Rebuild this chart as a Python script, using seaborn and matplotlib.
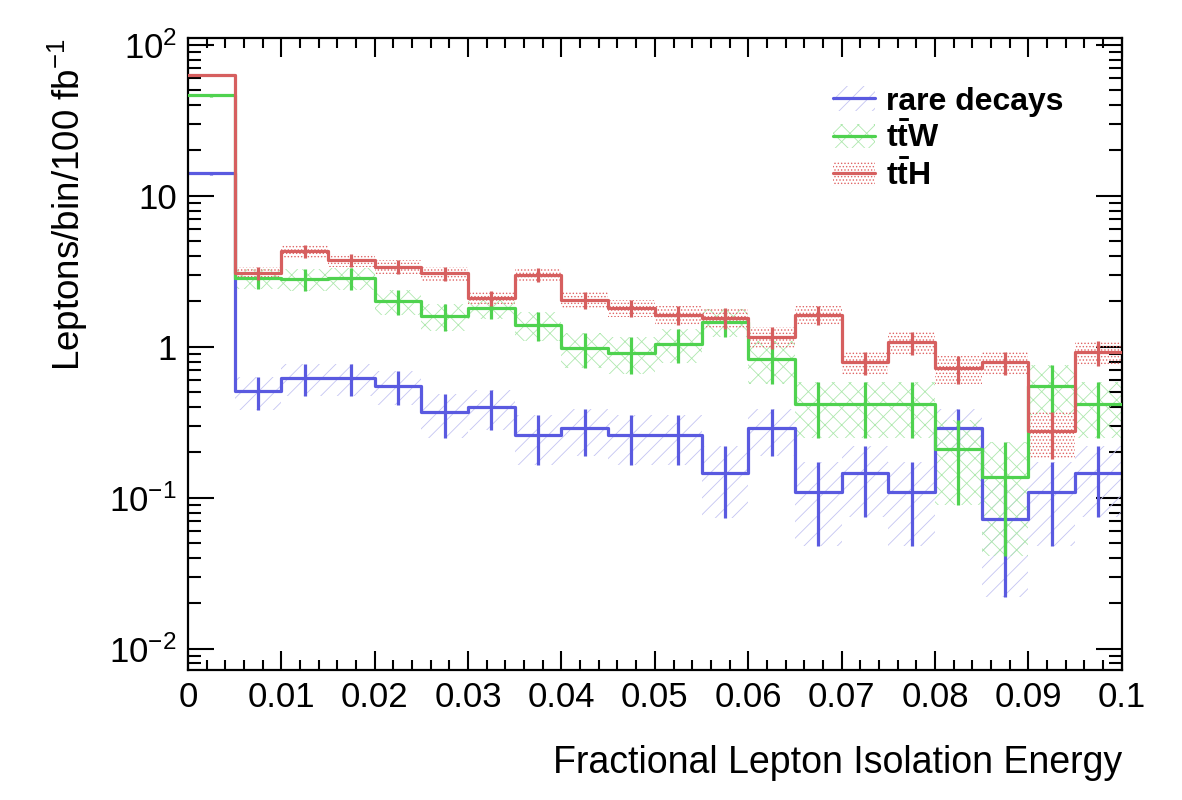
import matplotlib
matplotlib.use("Agg")
import matplotlib.pyplot as plt
import numpy as np
import pandas as pd
import seaborn as sns
from matplotlib.lines import Line2D
from matplotlib.patches import Patch
from matplotlib.ticker import FixedLocator, FixedFormatter, MultipleLocator, LogLocator, NullFormatter

# %% data
bin_edges = [round(0.005 * k, 4) for k in range(21)]
bin_centers = np.array(bin_edges[:-1]) + 0.0025

rare_vals = [14.1, 0.51, 0.62, 0.62, 0.55, 0.37, 0.40, 0.26, 0.29, 0.26,
             0.26, 0.147, 0.29, 0.11, 0.147, 0.11, 0.29, 0.073, 0.11, 0.147]
rare_errs = [0.4, 0.126, 0.145, 0.145, 0.14, 0.12, 0.12, 0.095, 0.10, 0.095,
             0.095, 0.073, 0.10, 0.062, 0.072, 0.062, 0.10, 0.051, 0.062, 0.072]

ttw_vals = [46.4, 2.85, 2.81, 2.85, 2.0, 1.60, 1.82, 1.40, 0.98, 0.91,
            1.05, 1.47, 0.83, 0.42, 0.42, 0.42, 0.21, 0.138, 0.555, 0.42]
ttw_errs = [0.9, 0.43, 0.45, 0.46, 0.37, 0.32, 0.30, 0.30, 0.26, 0.25,
            0.27, 0.31, 0.26, 0.17, 0.17, 0.17, 0.12, 0.097, 0.20, 0.17]

tth_vals = [63.4, 3.07, 4.32, 3.77, 3.40, 3.07, 2.10, 3.0, 2.05, 1.81,
            1.63, 1.56, 1.16, 1.63, 0.79, 1.07, 0.72, 0.79, 0.277, 0.92]
tth_errs = [1.0, 0.30, 0.43, 0.38, 0.37, 0.33, 0.24, 0.32, 0.26, 0.24,
            0.24, 0.25, 0.19, 0.23, 0.14, 0.18, 0.15, 0.14, 0.095, 0.17]

series_labels = ["rare decays", r"t$\mathbf{\bar{t}}$W", r"t$\mathbf{\bar{t}}$H"]
x_tick_values = [0, 0.01, 0.02, 0.03, 0.04, 0.05, 0.06, 0.07, 0.08, 0.09, 0.1]
x_tick_labels = ["0", "0.01", "0.02", "0.03", "0.04", "0.05", "0.06", "0.07", "0.08", "0.09", "0.1"]
y_tick_values = [1e-2, 1e-1, 1, 10, 100]
y_tick_labels = [r"$10^{-2}$", r"$10^{-1}$", "1", "10", r"$10^{2}$"]

# %% style
sns.set_style("ticks")
plt.rcParams["font.family"] = ["Liberation Sans", "DejaVu Sans"]
plt.rcParams["mathtext.fontset"] = "custom"
plt.rcParams["mathtext.rm"] = "Liberation Sans"
plt.rcParams["mathtext.it"] = "Liberation Sans:italic"
plt.rcParams["mathtext.bf"] = "Liberation Sans:bold"
plt.rcParams["text.color"] = "black"
plt.rcParams["axes.labelcolor"] = "black"
plt.rcParams["hatch.linewidth"] = 0.6

line_colors = ["#5a5ae0", "#4fd24f", "#d65f5f"]
band_colors = ["#c4c4f2", "#aee8ae", "#e06464"]
band_hatches = ["//", "xx", "....."]

fig = plt.figure(figsize=(11.82, 8), dpi=100)
ax = fig.add_axes([0.159, 0.1625, 0.790, 0.790])

all_series = [(rare_vals, rare_errs), (ttw_vals, ttw_errs), (tth_vals, tth_errs)]
for i, (vals, errs) in enumerate(all_series):
    vals = np.array(vals)
    errs = np.array(errs)
    ax.bar(bin_centers, 2 * errs, bottom=vals - errs, width=0.005,
           color="none", edgecolor=band_colors[i], hatch=band_hatches[i],
           linewidth=0, zorder=1)

for i, (vals, errs) in enumerate(all_series):
    vals = np.array(vals)
    errs = np.array(errs)
    df_hist = pd.DataFrame({"x": bin_centers, "w": vals})
    sns.histplot(data=df_hist, x="x", weights="w", bins=bin_edges, element="step",
                 fill=False, color=line_colors[i], linewidth=2.3, ax=ax, zorder=2 + i)
    ax.vlines(bin_centers, vals - errs, vals + errs, colors=line_colors[i],
              linewidth=2.3, zorder=2 + i)

ax.set_yscale("log")
ax.set_xlim(0, 0.1)
ax.set_ylim(10 ** -2.14, 10 ** 2.046)

ax.xaxis.set_major_locator(FixedLocator(x_tick_values))
ax.xaxis.set_major_formatter(FixedFormatter(x_tick_labels))
ax.xaxis.set_minor_locator(MultipleLocator(0.002))
ax.yaxis.set_major_locator(FixedLocator(y_tick_values))
ax.yaxis.set_major_formatter(FixedFormatter(y_tick_labels))
ax.yaxis.set_minor_locator(LogLocator(base=10, subs=np.arange(2, 10)))
ax.yaxis.set_minor_formatter(NullFormatter())

ax.tick_params(which="both", direction="in", top=True, right=True, width=1.5,
               labelsize=25, colors="black")
ax.tick_params(axis="x", which="major", length=14, pad=8)
ax.tick_params(axis="x", which="minor", length=7)
ax.tick_params(axis="y", which="major", length=19, pad=8)
ax.tick_params(axis="y", which="minor", length=9.5)
for sp in ax.spines.values():
    sp.set_linewidth(1.6)
    sp.set_color("black")

ax.set_xlabel("Fractional Lepton Isolation Energy", fontsize=27, loc="right", labelpad=22)
ax.set_ylabel(r"Leptons/bin/100 fb$^{-1}$", fontsize=26.5, loc="top", labelpad=14)

handles = []
for i in range(3):
    handles.append((Patch(facecolor="none", edgecolor=band_colors[i], hatch=band_hatches[i], linewidth=0),
                    Line2D([], [], color=line_colors[i], linewidth=2.3)))
leg = ax.legend(handles, series_labels, loc="upper left", bbox_to_anchor=(0.66, 0.969),
                frameon=False, prop={"size": 23, "weight": "bold"},
                handlelength=1.3, handleheight=0.8, handletextpad=0.35, labelspacing=0.18)

fig.savefig("out.png", dpi=100)
